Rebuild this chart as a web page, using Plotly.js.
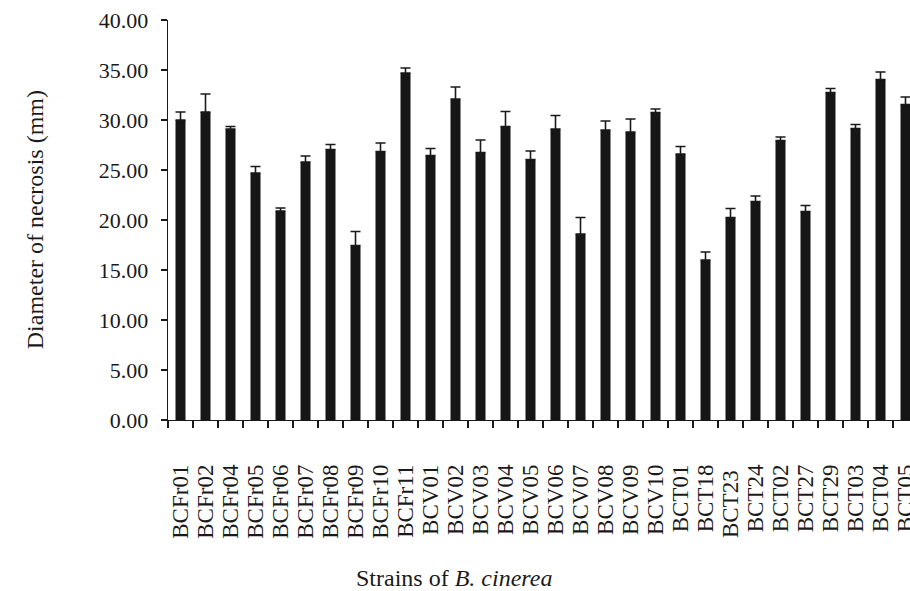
<!DOCTYPE html>
<html>
<head>
<meta charset="utf-8">
<script src="https://cdn.plot.ly/plotly-3.0.1.min.js"></script>
<style>
html,body{margin:0;padding:0;overflow:hidden;background:#fff;}
#chart{width:920px;height:591px;}
</style>
</head>
<body>
<div id="chart"></div>
<script>
const strains = ["BCFr01","BCFr02","BCFr04","BCFr05","BCFr06","BCFr07","BCFr08","BCFr09","BCFr10","BCFr11",
  "BCV01","BCV02","BCV03","BCV04","BCV05","BCV06","BCV07","BCV08","BCV09","BCV10",
  "BCT01","BCT18","BCT23","BCT24","BCT02","BCT27","BCT29","BCT03","BCT04","BCT05"];
const tickLabels = ["BCFr01","BCFr02","BCFr04","BCFr05","BCFr06","BCFr07","BCFr08","BCFr09","BCFr10","BCFr11",
  "BCV01","BCV02","BCV03","BCV04","BCV05","BCV06","BCV07","BCV08","BCV09","BCV10",
  "BCT01","BCT18","BCT23\u00a0","BCT24","BCT02","BCT27","BCT29","BCT03","BCT04","BCT05"];
const diameter = [30.0,30.8,29.1,24.7,20.9,25.8,27.05,17.45,26.85,34.7,
  26.45,32.1,26.75,29.35,26.05,29.1,18.6,29.0,28.8,30.75,
  26.6,16.0,20.25,21.85,27.95,20.85,32.75,29.15,34.05,31.55];
const errors = [0.8,1.8,0.25,0.65,0.3,0.6,0.5,1.4,0.85,0.5,
  0.7,1.2,1.25,1.5,0.85,1.35,1.65,0.9,1.3,0.35,
  0.75,0.8,0.9,0.55,0.35,0.6,0.4,0.4,0.75,0.75];
const yTitle = "Diameter of necrosis (mm)";
const xTitle = "Strains of <i>B. cinerea</i>";

const font = "Liberation Serif, Times New Roman, serif";

Plotly.newPlot("chart", [{
  type: "bar",
  x: strains,
  y: diameter,
  marker: {color: "#161616", line: {width: 0}},
  error_y: {type: "data", array: errors, symmetric: false, arrayminus: errors.map(() => 0),
            color: "#1a1a1a", thickness: 1.6, width: 5},
  hoverinfo: "none"
}], {
  width: 920, height: 591,
  margin: {l: 168, r: 2, t: 20, b: 171, pad: 0},
  paper_bgcolor: "#fff", plot_bgcolor: "#fff",
  bargap: 0.6,
  showlegend: false,
  font: {family: font, color: "#1a1a1a"},
  xaxis: {
    type: "category",
    tickvals: strains, ticktext: tickLabels,
    tickangle: -90,
    tickson: "boundaries",
    ticks: "outside", ticklen: 7, tickwidth: 1.2, tickcolor: "#1a1a1a",
    showline: true, linecolor: "#1a1a1a", linewidth: 1.4,
    showgrid: false, zeroline: false,
    tickfont: {family: font, size: 23, color: "#1a1a1a"},
    ticklabelstandoff: 34,
    automargin: false,
    fixedrange: true
  },
  yaxis: {
    range: [0, 40], dtick: 5, tickformat: ".2f",
    ticks: "outside", ticklen: 6, tickwidth: 1.2, tickcolor: "#1a1a1a",
    showline: true, linecolor: "#1a1a1a", linewidth: 1.4,
    showgrid: false, zeroline: false,
    tickfont: {family: font, size: 22, color: "#1a1a1a"},
    ticklabelstandoff: 8,
    automargin: false,
    fixedrange: true
  },
  annotations: [
    {text: yTitle, xref: "paper", yref: "paper", x: -0.177, y: 0.5, xanchor: "center", yanchor: "middle",
     textangle: -90, showarrow: false, font: {family: font, size: 24, color: "#1a1a1a"}},
    {text: xTitle, xref: "paper", yref: "paper", x: 0.381, y: -0.396, xanchor: "center", yanchor: "middle",
     showarrow: false, font: {family: font, size: 24, color: "#1a1a1a"}}
  ]
}, {staticPlot: true, displayModeBar: false});
</script>
</body>
</html>
